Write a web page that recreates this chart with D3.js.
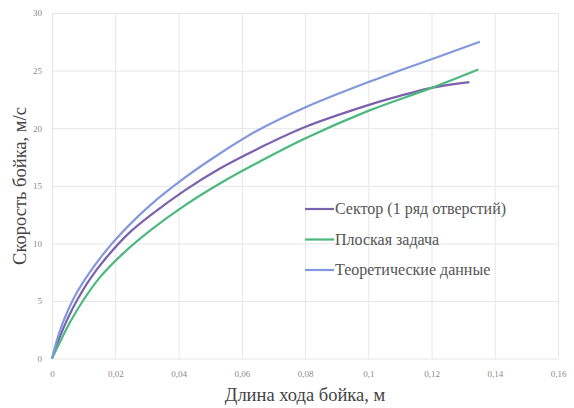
<!DOCTYPE html>
<html><head><meta charset="utf-8">
<script src="https://cdn.jsdelivr.net/npm/d3@7"></script>
<style>body{margin:0;background:#fff}</style>
</head><body>
<svg id="c" width="574" height="408"></svg>
<script>
const xTicks = [0, 0.02, 0.04, 0.06, 0.08, 0.1, 0.12, 0.14, 0.16];
const yTicks = [0, 5, 10, 15, 20, 25, 30];
const seriesNames = ["Сектор (1 ряд отверстий)", "Плоская задача", "Теоретические данные"];
const sectorX = [0, 0.0025, 0.005, 0.008, 0.012, 0.017, 0.024, 0.031, 0.042, 0.0531, 0.065, 0.08, 0.1, 0.11, 0.12, 0.132];
const sectorY = [0, 1.9, 3.5, 5.1, 6.9, 8.7, 10.8, 12.4, 14.6, 16.5, 18.2, 20.1, 22.0, 22.8, 23.5, 24.0];
const flatX = [0, 0.003, 0.006, 0.01, 0.015, 0.022, 0.031, 0.042, 0.0531, 0.065, 0.08, 0.1, 0.12, 0.1348];
const flatY = [0, 1.7, 3.3, 5.1, 7.0, 9.0, 11.1, 13.3, 15.2, 17.0, 19.1, 21.5, 23.5, 25.1];
const theoX = [0, 0.002, 0.004, 0.007, 0.011, 0.016, 0.022, 0.031, 0.042, 0.0531, 0.065, 0.08, 0.1, 0.11, 0.1353];
const theoY = [0, 2.0, 3.5, 5.3, 7.1, 9.0, 10.9, 13.3, 15.7, 17.8, 19.8, 21.8, 24.0, 25.0, 27.5];
const colors = ["#7b62ad", "#4cb87e", "#8198dc"];

const svg = d3.select("#c");
const x = d3.scaleLinear().domain([0, 0.16]).range([52, 558]);
const y = d3.scaleLinear().domain([0, 30]).range([358.5, 13]);

const fmt = d => d === 0 ? "0" : String(d).replace(".", ",");
const fam = "Liberation Serif, Tinos, Times New Roman, DejaVu Serif, Noto Serif, serif";

svg.append("g").attr("transform", "translate(0,358.5)")
  .call(d3.axisBottom(x).tickValues(xTicks).tickSize(-(358.5 - 13)).tickFormat(fmt).tickPadding(12))
  .call(g => g.select(".domain").remove())
  .call(g => g.selectAll("line").attr("stroke", "#e6e6e6"))
  .call(g => g.selectAll("text").attr("fill", "#8a8a8a").attr("font-family", fam).attr("font-size", 9));
svg.append("g").attr("transform", "translate(52,0)")
  .call(d3.axisLeft(y).tickValues(yTicks).tickSize(-(558 - 52)).tickFormat(fmt).tickPadding(10))
  .call(g => g.select(".domain").remove())
  .call(g => g.selectAll("line").attr("stroke", "#e6e6e6"))
  .call(g => g.selectAll("text").attr("fill", "#8a8a8a").attr("font-family", fam).attr("font-size", 9));

const line = d3.line().x(d => x(d[0])).y(d => y(d[1])).curve(d3.curveCatmullRom.alpha(0.5));
const series = [
  sectorX.map((v, i) => [v, sectorY[i]]),
  flatX.map((v, i) => [v, flatY[i]]),
  theoX.map((v, i) => [v, theoY[i]])
];
series.forEach((s, i) => {
  svg.append("path").datum(s).attr("d", line).attr("fill", "none")
    .attr("stroke", colors[i]).attr("stroke-width", 2.2).attr("stroke-linejoin", "round");
});

seriesNames.forEach((n, i) => {
  const ly = 209 + i * 30.5;
  svg.append("line").attr("x1", 305).attr("x2", 334).attr("y1", ly).attr("y2", ly)
    .attr("stroke", colors[i]).attr("stroke-width", 2.2);
  svg.append("text").attr("x", 335).attr("y", ly + 5).text(n)
    .attr("fill", "#555").attr("font-family", fam).attr("font-size", 16);
});

svg.append("text").attr("x", 305).attr("y", 401).attr("text-anchor", "middle")
  .text("Длина хода бойка, м").attr("fill", "#444").attr("font-family", fam).attr("font-size", 18.5);
svg.append("text").attr("transform", "translate(26,186) rotate(-90)").attr("text-anchor", "middle")
  .text("Скорость бойка, м/с").attr("fill", "#444").attr("font-family", fam).attr("font-size", 18.5);
</script>
</body></html>
